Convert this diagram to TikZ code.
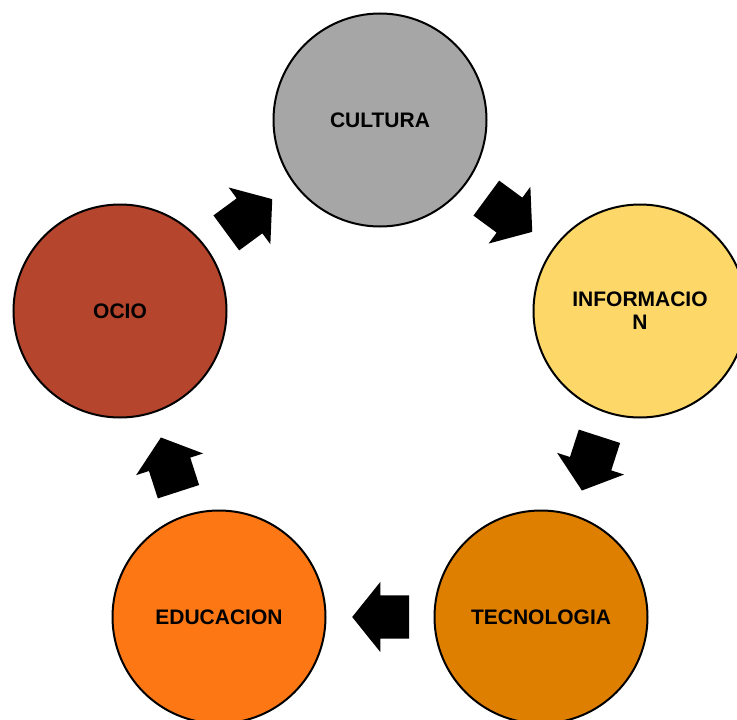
\documentclass[tikz,border=0pt]{standalone}
\usepackage{fontspec}
\setmainfont{Liberation Sans}
\usetikzlibrary{shapes.arrows}

\definecolor{culturaGray}{RGB}{166,166,166}
\definecolor{informacionYellow}{RGB}{253,216,105}
\definecolor{tecnologiaOrange}{RGB}{222,127,0}
\definecolor{educacionOrange}{RGB}{253,120,20}
\definecolor{ocioRed}{RGB}{181,69,45}

\begin{document}
\begin{tikzpicture}[
  x=1pt, y=-1pt,
  circ/.style={circle, draw=black, line width=2pt, minimum size=213pt, inner sep=0pt},
  flow/.style={single arrow, fill=black, draw=none, minimum height=57pt,
    inner xsep=0pt, inner ysep=21.5pt, single arrow head extend=13.5pt,
    single arrow tip angle=102.6, sloped, allow upside down,
    anchor=tail, pos=0.225},
  every node/.style={align=center, font=\fontsize{21}{23}\selectfont\bfseries}]

\useasboundingbox (0,0) rectangle (737,720);

% Position the circles round the cycle
\node[circ, fill=culturaGray] (cultura) at (380,120) {CULTURA};
\node[circ, fill=informacionYellow] (informacion) at (640,311) {INFORMACIO\\N};
\node[circ, fill=tecnologiaOrange] (tecnologia) at (541,617) {TECNOLOGIA};
\node[circ, fill=educacionOrange] (educacion) at (219,617) {EDUCACION};
\node[circ, fill=ocioRed] (ocio) at (120,311) {OCIO};

% Put the block arrows between the circles
\path (cultura) -- (informacion) node[flow] (flowA) {};
\path (informacion) -- (tecnologia) node[flow] (flowB) {};
\path (tecnologia) -- (educacion) node[flow] (flowC) {};
\path (educacion) -- (ocio) node[flow] (flowD) {};
\path (ocio) -- (cultura) node[flow] (flowE) {};

\end{tikzpicture}
\end{document}
